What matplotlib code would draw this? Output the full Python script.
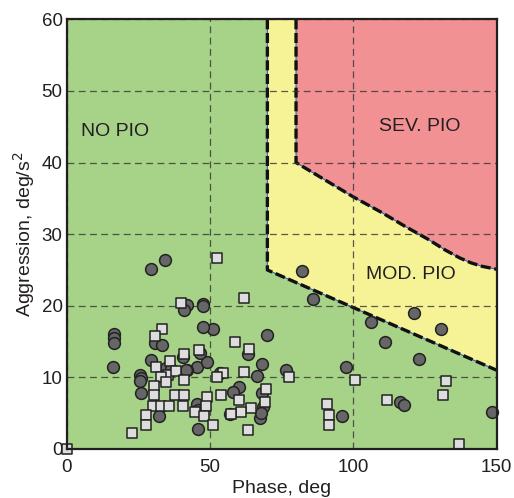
import numpy as np
import matplotlib.pyplot as plt

plt.rcParams['font.family'] = ['Liberation Sans', 'DejaVu Sans']

# circle markers (phase deg, aggression deg/s^2)
circ_x = [29.4, 34.2, 82.0, 85.8, 121.3, 106.0, 130.6, 111.2, 123.0, 97.3,
          95.9, 116.3, 117.6, 148.5, 69.8, 68.0, 66.3, 76.4, 60.0, 58.1,
          56.8, 68.0, 68.6, 67.4, 67.8, 63.1, 50.9, 47.4, 47.6, 47.6,
          41.9, 40.8, 16.5, 16.5, 16.5, 16.1, 25.6, 25.8, 25.6, 25.9,
          29.3, 30.8, 33.1, 32.2, 45.7, 45.4, 48.8, 46.5, 41.9, 40.7,
          45.3, 45.8, 53.5, 34.5, 36.5, 41.6]
circ_y = [25.2, 26.4, 24.9, 20.9, 19.0, 17.8, 16.7, 15.0, 12.6, 11.4,
          4.6, 6.5, 6.1, 5.1, 15.9, 11.8, 10.2, 11.0, 8.6, 7.9,
          4.9, 7.8, 5.9, 4.3, 5.0, 13.3, 16.8, 17.1, 20.3, 19.9,
          20.1, 19.4, 16.0, 15.5, 14.8, 11.4, 10.3, 9.9, 9.5, 7.8,
          12.4, 14.8, 14.5, 4.6, 2.8, 11.5, 12.1, 13.4, 11.0, 12.9,
          6.3, 5.4, 10.6, 11.3, 11.2, 11.0]

# square markers
sq_x = [52.6, 61.8, 33.1, 30.9, 39.9, 40.8, 35.9, 31.1, 35.4, 32.9,
        38.0, 34.5, 40.8, 30.3, 30.3, 37.8, 40.8, 30.2, 32.9, 35.7,
        40.7, 27.8, 27.7, 22.9, 58.7, 63.5, 46.1, 54.4, 52.3, 61.8,
        69.6, 53.8, 48.8, 48.6, 69.1, 60.1, 64.3, 60.8, 57.2, 44.8,
        47.9, 51.0, 63.4, 77.4, 100.4, 90.7, 91.4, 91.4, 111.8, 132.3,
        131.4, 136.9, 0.0]
sq_y = [26.7, 21.1, 16.8, 15.8, 20.4, 13.3, 12.3, 11.4, 10.3, 10.1,
        10.9, 9.3, 9.6, 8.8, 7.5, 7.5, 7.6, 6.0, 6.0, 6.0,
        6.0, 4.7, 3.4, 2.3, 15.0, 14.0, 13.8, 10.6, 10.0, 10.8,
        8.4, 7.5, 7.3, 6.0, 6.6, 6.9, 5.7, 5.2, 4.9, 5.2,
        4.6, 3.4, 2.7, 10.0, 9.6, 6.3, 4.7, 3.4, 6.8, 9.5,
        7.5, 0.7, 0.0]

# region boundaries
mod_x = [70, 70, 150]
mod_y = [60, 25, 11]
sev_x = [80, 80, 90, 100, 110, 118, 126, 132, 137, 141, 145, 150]
sev_y = [60, 40, 37.6, 35.2, 33.0, 31.1, 29.3, 27.8, 26.7, 26.0, 25.5, 25.1]

green = '#a6d388'
yellow = '#f6f296'
red = '#f29194'

fig = plt.figure(figsize=(5.14, 4.98), dpi=100)
ax = fig.add_axes([0.1298, 0.0984, 0.8365, 0.8628])
ax.set_facecolor(green)

ax.fill(mod_x + [150], mod_y + [60], color=yellow, lw=0, zorder=0.5)
ax.fill(sev_x + [150], sev_y + [60], color=red, lw=0, zorder=0.6)

ax.grid(True, color='#333333', ls=(0, (5.5, 3.5)), lw=0.9, alpha=0.8)
ax.set_axisbelow(False)

for bx, by in [(mod_x, mod_y), (sev_x, sev_y)]:
    ax.plot(bx, by, color='#3060c0', lw=0.8, zorder=2, clip_on=False)
    ax.plot(bx, by, color='#111111', lw=2.4, ls=(0, (3, 1.1)), zorder=2.1, clip_on=False)

ax.scatter(circ_x, circ_y, s=72, marker='o', facecolor='#666666',
           edgecolor='#222222', linewidth=1.1, zorder=3, clip_on=False)
ax.scatter(sq_x, sq_y, s=55, marker='s', facecolor='#dddddd',
           edgecolor='#222222', linewidth=1.1, zorder=4, clip_on=False)

ax.text(5, 44.3, 'NO PIO', fontsize=14, va='center', ha='left', color='#231f20')
ax.text(123, 45, 'SEV. PIO', fontsize=14, va='center', ha='center', color='#231f20')
ax.text(120, 24.3, 'MOD. PIO', fontsize=14, va='center', ha='center', color='#231f20')

ax.set_xlim(0, 150)
ax.set_ylim(0, 60)
ax.set_xticks([0, 50, 100, 150])
ax.set_yticks([0, 10, 20, 30, 40, 50, 60])
ax.tick_params(direction='in', length=0, labelsize=13.5, colors='#231f20')
ax.tick_params(axis='y', pad=3)
ax.tick_params(axis='x', pad=7)
for sp in ax.spines.values():
    sp.set_linewidth(1.6)
    sp.set_color('#231f20')
    sp.set_zorder(5)

ax.set_xlabel('Phase, deg', fontsize=14, labelpad=3, color='#231f20')
ax.set_ylabel('Aggression, deg/s$^2$', fontsize=14, labelpad=3, color='#231f20')

fig.savefig('out.png', dpi=100)
